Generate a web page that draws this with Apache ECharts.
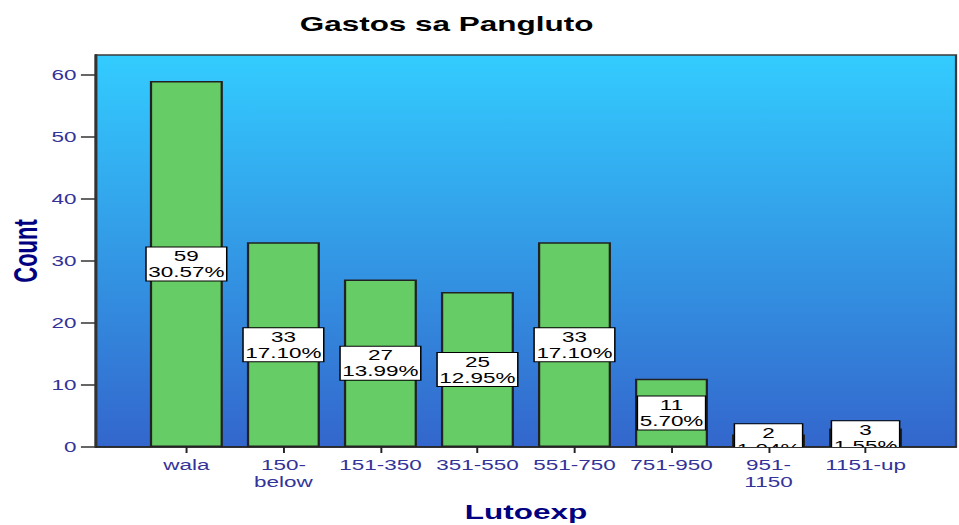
<!DOCTYPE html>
<html>
<head>
<meta charset="utf-8">
<title>Gastos sa Pangluto</title>
<script src="https://cdn.jsdelivr.net/npm/echarts@6/dist/echarts.min.js"></script>
<style>
  html, body { margin: 0; padding: 0; background: #fff; overflow: hidden; }
  /* el gráfico original está estirado a lo ancho, se dibuja angosto y se escala */
  #chart { width: 640px; height: 525px; transform: scaleX(1.4984375); transform-origin: 0 0; }
</style>
</head>
<body>
<div id="chart"></div>
<script>
// datos
var categories = ['wala', '150-\nbelow', '151-350', '351-550', '551-750', '751-950', '951-\n1150', '1151-up'];
var counts = [59, 33, 27, 25, 33, 11, 2, 3];
var yTicks = [0, 10, 20, 30, 40, 50, 60];
var yMax = 63.2;

var total = counts.reduce(function (a, b) { return a + b; }, 0);
var labelData = counts.map(function (v, i) { return [i, v]; });

var font = 'Arial, "Liberation Sans", sans-serif';
var chart = echarts.init(document.getElementById('chart'), null, { renderer: 'svg' });

var option = {
    animation: false,
    title: {
        text: 'Gastos sa Pangluto',
        left: 195,
        top: 8,
        textStyle: { fontFamily: font, fontWeight: 'bold', fontSize: 21, color: '#000' }
    },
    grid: [
        // fondo del área de trazado
        {
            left: 64, right: 2, top: 55, bottom: 78,
            outerBoundsMode: 'none',
            containLabel: false,
            show: true,
            borderColor: '#3a3a3a',
            borderWidth: 1.5,
            backgroundColor: new echarts.graphic.LinearGradient(0, 0, 0, 1, [
                { offset: 0, color: '#33ccff' },
                { offset: 1, color: '#3366cc' }
            ])
        },
        // categorías
        { left: 92, right: 30, top: 55, bottom: 78, outerBoundsMode: 'none', containLabel: false }
    ],
    xAxis: [
        {
            type: 'value', gridIndex: 0, min: 0, max: 1,
            name: 'Lutoexp',
            nameLocation: 'middle',
            nameGap: 54,
            nameMoveOverlap: false,
            nameTextStyle: { fontFamily: font, fontWeight: 'bold', fontSize: 21, color: '#000080' },
            axisLine: { show: true, lineStyle: { color: '#222', width: 1.5 } },
            axisTick: { show: false },
            axisLabel: { show: false },
            splitLine: { show: false }
        },
        {
            type: 'category', gridIndex: 1, data: categories,
            axisLine: { show: false },
            axisTick: { show: true, alignWithLabel: true, length: 6, lineStyle: { color: '#222', width: 1.3 } },
            axisLabel: { interval: 0, margin: 9, fontFamily: font, fontSize: 15, lineHeight: 17, color: '#333399' },
            splitLine: { show: false }
        }
    ],
    yAxis: [
        {
            type: 'value', gridIndex: 0, min: 0, max: yMax,
            name: 'Count',
            nameLocation: 'middle',
            nameRotate: 90,
            nameGap: 36,
            nameMoveOverlap: false,
            nameTextStyle: { fontFamily: font, fontWeight: 'bold', fontSize: 22, color: '#000080' },
            axisLine: { show: true, lineStyle: { color: '#333', width: 2 } },
            axisTick: { show: true, length: 10, customValues: yTicks, lineStyle: { color: '#333', width: 1.5 } },
            axisLabel: { margin: 13, customValues: yTicks, fontFamily: font, fontSize: 15, color: '#333399' },
            splitLine: { show: false }
        },
        { type: 'value', gridIndex: 1, min: 0, max: yMax, show: false }
    ],
    series: [
        {
            type: 'bar',
            xAxisIndex: 1,
            yAxisIndex: 1,
            data: counts,
            barWidth: 48.7,
            itemStyle: { color: '#66cc66', borderColor: '#222', borderWidth: 1.5 },
            z: 2
        },
        {
            // etiquetas: cuenta y porcentaje, recortadas al área
            type: 'custom',
            xAxisIndex: 1,
            yAxisIndex: 1,
            clip: true,
            z: 5,
            data: labelData,
            renderItem: function (params, api) {
                var v = api.value(1);
                var p = api.coord([api.value(0), v / 2]);
                var pct = (v / total * 100).toFixed(2) + '%';
                return {
                    type: 'text',
                    x: p[0],
                    y: p[1],
                    style: {
                        text: v + '\n' + pct,
                        align: 'center',
                        verticalAlign: 'middle',
                        font: '15px ' + font,
                        lineHeight: 16,
                        fill: '#000',
                        backgroundColor: '#fff',
                        borderColor: '#000',
                        borderWidth: 1,
                        padding: [1, 1, 0, 1]
                    }
                };
            }
        }
    ]
};

chart.setOption(option);
window.onresize = function () {
    chart.resize();
};
</script>
</body>
</html>
